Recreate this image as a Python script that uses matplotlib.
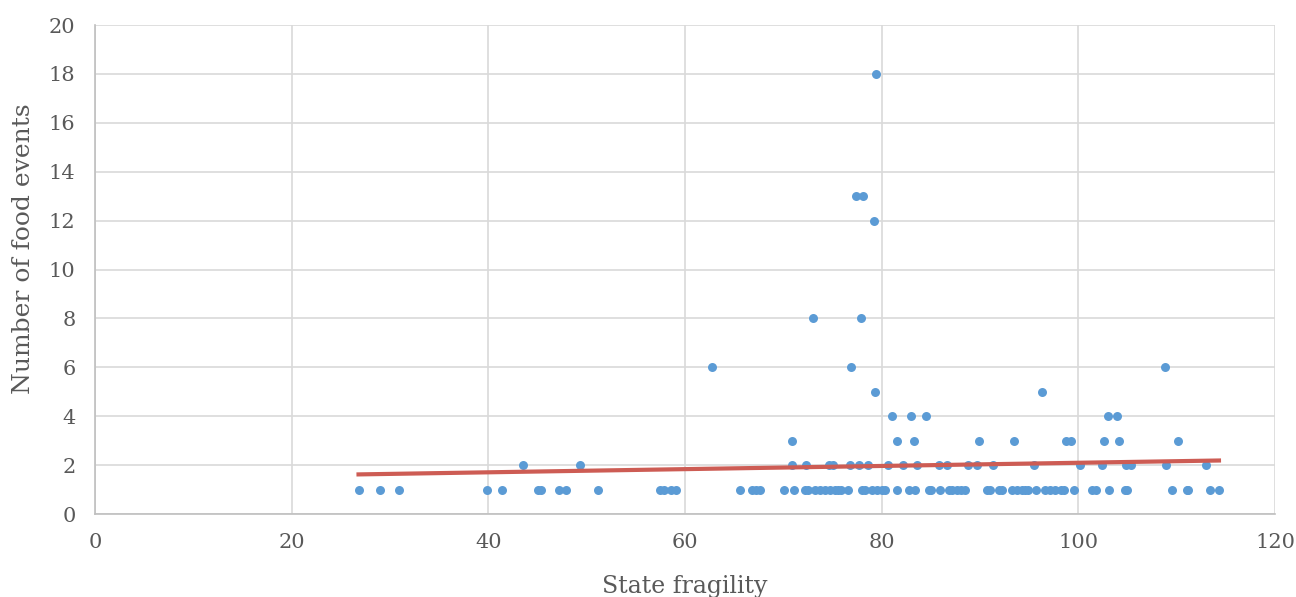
import matplotlib.pyplot as plt
import numpy as np

plt.rcParams['font.family'] = ['DejaVu Serif']

# state fragility scores, grouped by number of food events
frag_1 = [26.8, 28.95, 30.9, 39.85, 41.4, 45.1, 45.4, 47.2, 47.9, 51.2, 57.5, 57.9,
          58.6, 59.1, 65.6, 66.85, 67.2, 67.6, 70.1, 71.1, 72.2, 72.5, 73.2, 73.7,
          74.2, 74.7, 75.3, 75.6, 75.9, 76.6, 78.0, 78.3, 79.0, 79.5, 80.0, 80.35,
          81.6, 82.8, 83.4, 84.8, 85.0, 85.9, 86.8, 87.2, 87.65, 88.1, 88.5, 90.7,
          91.0, 91.9, 92.2, 93.25, 93.8, 94.3, 94.6, 94.9, 95.7, 96.6, 97.1, 97.65,
          98.2, 98.5, 99.6, 101.4, 101.8, 103.15, 104.75, 104.95, 109.5, 111.0,
          111.2, 113.4, 114.3]
frag_2 = [43.5, 49.3, 70.86, 72.35, 74.6, 75.0, 76.8, 77.7, 78.65, 80.6, 82.2, 83.6,
          85.8, 86.6, 88.8, 89.7, 91.3, 95.45, 100.2, 102.4, 104.85, 105.4, 108.95,
          113.0]
frag_3 = [70.9, 81.6, 83.3, 89.9, 93.45, 98.7, 99.3, 102.6, 104.1, 110.1]
frag_4 = [81.1, 83.0, 84.5, 103.0, 103.9]
frag_5 = [79.3, 96.3]
frag_6 = [62.7, 76.9, 108.8]
frag_8 = [73.0, 77.85]
frag_12 = [79.2]
frag_13 = [77.4, 78.1]
frag_18 = [79.4]

# linear trendline as shown on the chart (many points overlap at 1)
trend_slope = 0.0065
trend_intercept = 1.446

groups = [(1, frag_1), (2, frag_2), (3, frag_3), (4, frag_4), (5, frag_5),
          (6, frag_6), (8, frag_8), (12, frag_12), (13, frag_13), (18, frag_18)]
x = np.concatenate([g[1] for g in groups])
y = np.concatenate([[g[0]] * len(g[1]) for g in groups])

fig = plt.figure(figsize=(12.96, 5.97), dpi=100)
ax = fig.add_axes([0.0733, 0.139, 0.9105, 0.819])

ax.scatter(x, y, s=42, color="#5B9BD5", zorder=3, linewidths=0)

xs = np.array([x.min(), x.max()])
ax.plot(xs, trend_slope * xs + trend_intercept, color="#CD5C54", linewidth=3, zorder=4)

ax.set_xlim(0, 120)
ax.set_ylim(0, 20)
ax.set_xticks(np.arange(0, 121, 20))
ax.set_yticks(np.arange(0, 21, 2))
ax.grid(True, color="#D9D9D9", linewidth=1.2)
ax.set_axisbelow(True)
for side in ["top", "right"]:
    ax.spines[side].set_visible(False)
for side in ["left", "bottom"]:
    ax.spines[side].set_color("#BFBFBF")
    ax.spines[side].set_linewidth(1.2)
ax.tick_params(length=0, labelsize=15, colors="#595959", pad=14)
ax.set_xlabel("State fragility", fontsize=17, color="#595959", labelpad=16)
ax.set_ylabel("Number of food events", fontsize=18, color="#595959")
ax.yaxis.set_label_coords(-0.051, 0.542)

fig.savefig("out.png", dpi=100)
